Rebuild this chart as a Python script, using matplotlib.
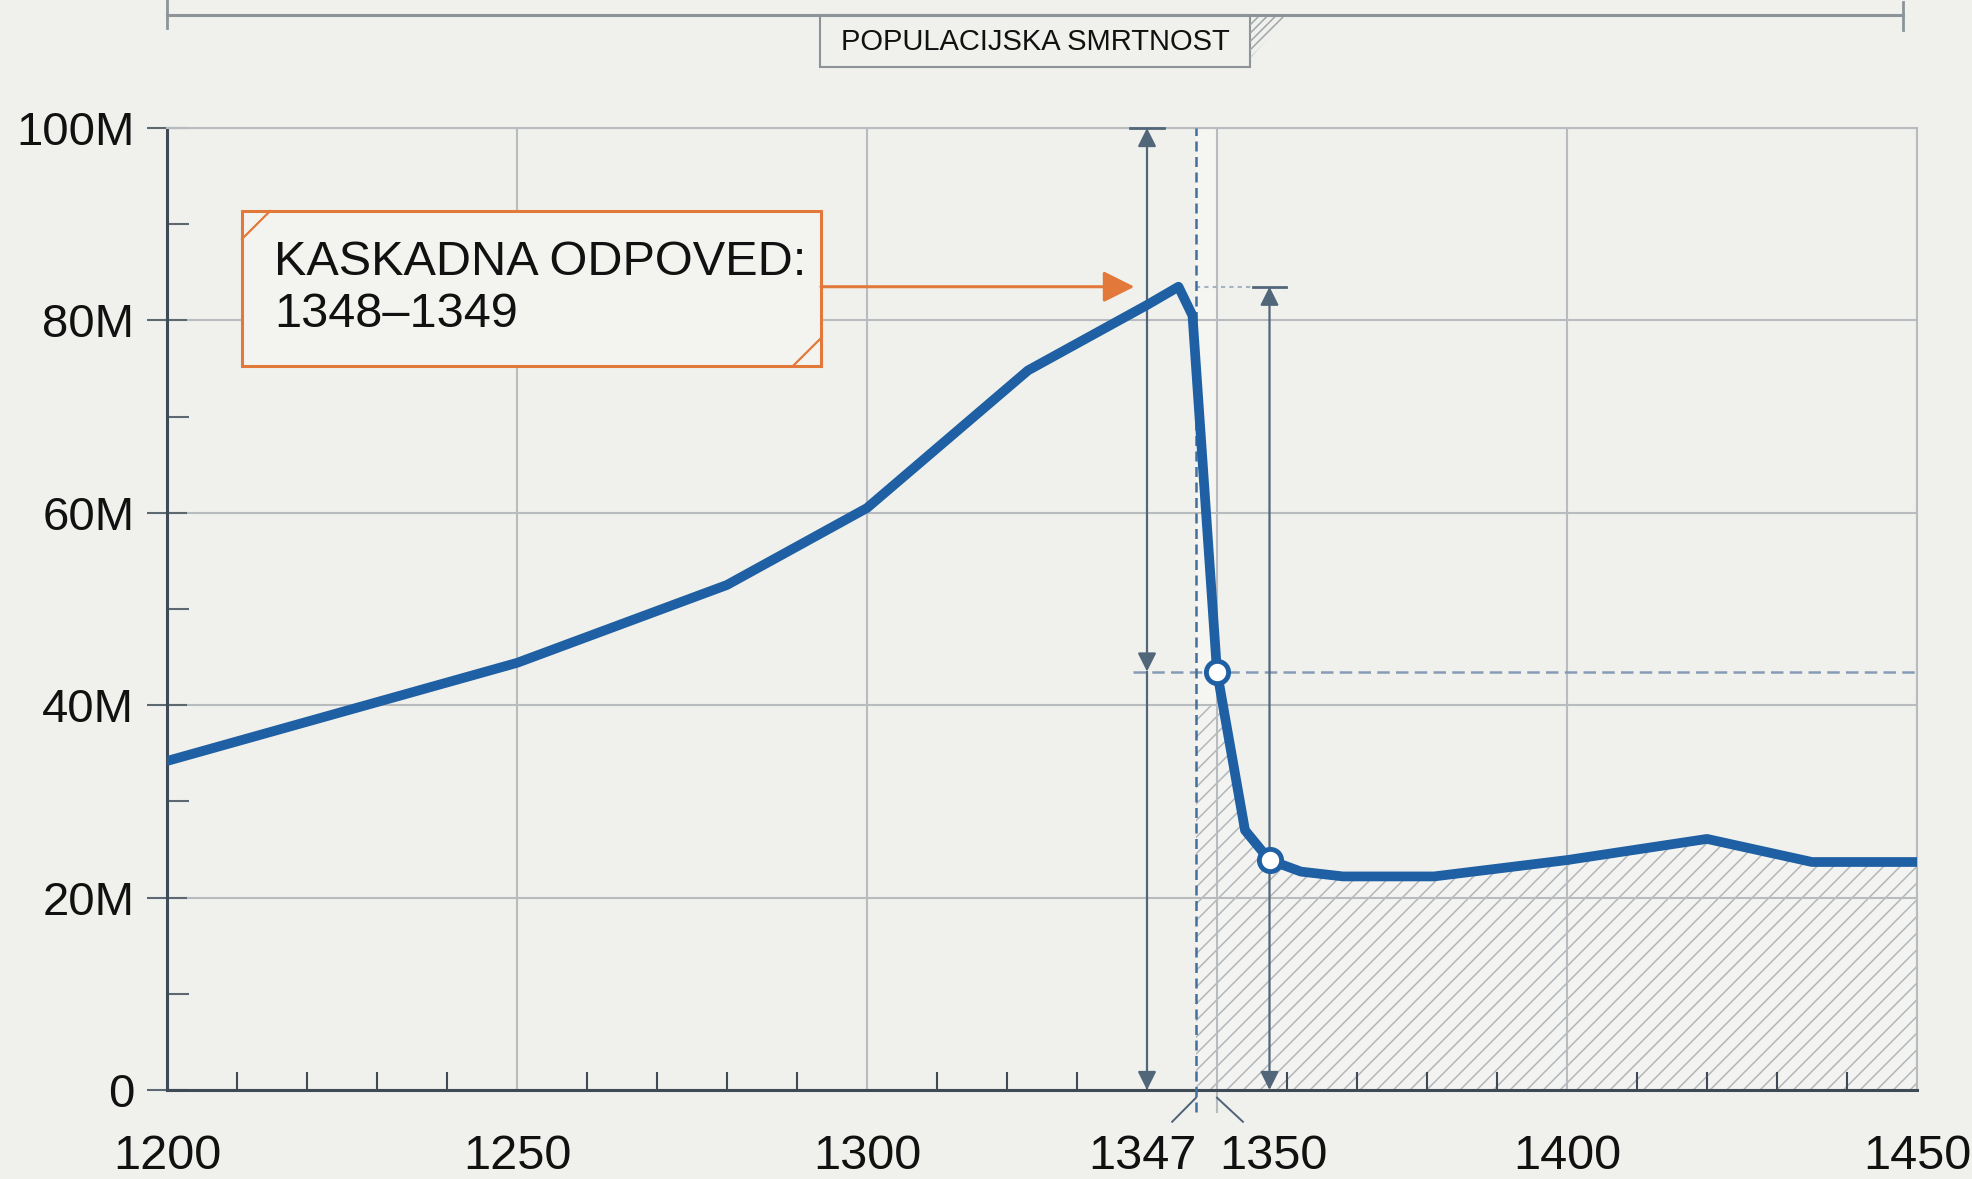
import matplotlib
matplotlib.use('Agg')
import matplotlib.pyplot as plt
import matplotlib.transforms as mtransforms
from matplotlib.patches import Rectangle, Polygon
from matplotlib.lines import Line2D
from matplotlib.ticker import FixedLocator

# ---------------- data ----------------
years = [1200, 1225, 1250, 1280, 1300, 1323, 1340, 1344.5, 1346.5, 1350,
         1354, 1357.5, 1362, 1368, 1381, 1400, 1420, 1435, 1450]
population_m = [34.2, 39.3, 44.4, 52.5, 60.5, 74.8, 81.6, 83.5, 80.5, 43.5,
                27.0, 23.9, 22.7, 22.2, 22.2, 23.9, 26.1, 23.7, 23.7]
marker_years = [1350, 1357.5]
x_major = [1200, 1250, 1300, 1350, 1400, 1450]
x_major_labels = ['1200', '1250', '1300', '', '1400', '1450']
x_minor = [1210, 1220, 1230, 1240, 1260, 1270, 1280, 1290, 1310, 1320, 1330,
           1340, 1360, 1370, 1380, 1390, 1410, 1420, 1430, 1440]
y_ticks = [0, 20, 40, 60, 80, 100]
y_labels = ['0', '20M', '40M', '60M', '80M', '100M']
y_minor = [10, 30, 50, 70, 90]
collapse_start = 1347
collapse_end = 1350
dim_x = 1340
hatch_cap = 40
annot_text = 'KASKADNA ODPOVED:\n1348\u20131349'
title_text = 'POPULACIJSKA SMRTNOST'
special_labels = [('1347', 1339.4, collapse_start, 1343.6),
                  ('1350', 1358.0, collapse_end, 1353.7)]

# ---------------- style ----------------
BG = '#f0f1ec'
BLUE = '#1f5fa3'
ORANGE = '#e2793a'
DIM = '#52667a'
GRID = '#b8bcbe'
SPINE = '#3e4a56'
FONT = ['Liberation Sans', 'DejaVu Sans']
plt.rcParams['font.family'] = FONT
plt.rcParams['hatch.linewidth'] = 1.1

XFS = 35
YFS = 34

W, H = 1972, 1179
fig = plt.figure(figsize=(W / 100, H / 100), dpi=100, facecolor=BG)
ax = fig.add_axes([167 / W, 89 / H, 1750 / W, 962 / H])
ax.set_facecolor(BG)
ax.set_xlim(1200, 1450)
ax.set_ylim(0, 100)

# ticks
ax.set_xticks(x_major)
ax.set_xticklabels(x_major_labels, fontsize=XFS)
ax.xaxis.set_minor_locator(FixedLocator(x_minor))
XPAD = 32
ax.tick_params(axis='x', which='major', length=0, pad=XPAD, colors='#111111')
ax.tick_params(axis='x', which='minor', direction='in', length=13, width=1.5,
               color=SPINE)
ax.set_yticks(y_ticks)
ax.set_yticklabels(y_labels, fontsize=YFS)
ax.yaxis.set_minor_locator(FixedLocator(y_minor))
ax.tick_params(axis='y', which='major', direction='inout', length=29, width=1.5,
               color='#5d6873', pad=9, labelcolor='#111111')
ax.tick_params(axis='y', which='minor', direction='in', length=16, width=1.5,
               color='#5d6873')

ax.grid(True, which='major', color=GRID, lw=1.5)
ax.set_axisbelow(True)
for s in ['left', 'bottom']:
    ax.spines[s].set_color(SPINE)
    ax.spines[s].set_linewidth(2.2)
for s in ['top', 'right']:
    ax.spines[s].set_color(GRID)
    ax.spines[s].set_linewidth(1.5)

xt = ax.get_xaxis_transform()

# light band and hatched region (kept beneath the grid)
ax.axvspan(collapse_start, collapse_end, color='white', alpha=0.35, lw=0, zorder=0.2)
coll = ax.fill_between(years, 0, population_m, facecolor='#f3f4f1',
                       edgecolor='#b3b7ba', hatch='//', linewidth=0, zorder=0.3)
clip = Rectangle((collapse_start, 0), 1450 - collapse_start, hatch_cap,
                 transform=ax.transData)
coll.set_clip_path(clip)

peak = max(population_m)
i1 = years.index(marker_years[0])
i2 = years.index(marker_years[1])
v1 = population_m[i1]
x2 = years[i2]

# reference lines
ax.plot([collapse_start, collapse_start], [-0.023, 1], transform=xt,
        color='#41709f', lw=1.8, ls=(0, (4, 2.2)), clip_on=False, zorder=4)
ax.plot([collapse_end, collapse_end], [-0.023, 0], transform=xt,
        color=GRID, lw=1.5, clip_on=False, zorder=2)
ax.plot([1338, 1450], [v1, v1], color='#869cb6', lw=1.8, ls=(0, (5, 2.5)), zorder=3)

# dimension arrows
ap = dict(color=DIM, lw=1.6, mutation_scale=28, shrinkA=0, shrinkB=0)
ax.annotate('', xy=(dim_x, 100), xytext=(dim_x, v1),
            arrowprops=dict(arrowstyle='<|-|>', **ap), annotation_clip=False)
ax.annotate('', xy=(dim_x, 0), xytext=(dim_x, v1),
            arrowprops=dict(arrowstyle='-|>', **ap), annotation_clip=False)
ax.plot([dim_x - 2.4, dim_x + 2.4], [100, 100], color=DIM, lw=2, clip_on=False, zorder=4)
ax.annotate('', xy=(x2, peak), xytext=(x2, 0),
            arrowprops=dict(arrowstyle='<|-|>', **ap), annotation_clip=False)
ax.plot([x2 - 2.3, x2 + 2.3], [peak, peak], color=DIM, lw=2, zorder=4)
ax.plot([collapse_start, x2 - 2.3], [peak, peak], color='#a4b3c3', lw=1.5,
        ls=(0, (2, 2)), zorder=3)

# main curve
ax.plot(years, population_m, color=BLUE, lw=7, solid_joinstyle='round',
        solid_capstyle='round', zorder=5)
ax.plot([years[i1], years[i2]], [population_m[i1], population_m[i2]], 'o',
        ms=16, mfc='white', mec=BLUE, mew=3.5, zorder=6)

# special x labels with leaders
lab_tr = mtransforms.offset_copy(xt, fig=fig, y=-XPAD, units='points')
for txt, lx, tick_x, lead_x in special_labels:
    ax.text(lx, 0, txt, transform=lab_tr, ha='center', va='top', fontsize=XFS,
            color='#111111', clip_on=False)
    ax.plot([tick_x, lead_x], [-0.008, -0.033], transform=xt, color='#4d6277',
            lw=1.4, clip_on=False)

# annotation box
bx0, by0, bw, bh = 0.0429, 0.7526, 0.3308, 0.1611
ax.add_patch(Rectangle((bx0, by0), bw, bh, transform=ax.transAxes,
                       fc='#f3f4f0', ec=ORANGE, lw=2.2, zorder=7))
cdx, cdy = 0.016, 0.029
ax.plot([bx0, bx0 + cdx], [by0 + bh - cdy, by0 + bh], transform=ax.transAxes,
        color=ORANGE, lw=1.6, zorder=8)
ax.plot([bx0 + bw - cdx, bx0 + bw], [by0, by0 + cdy], transform=ax.transAxes,
        color=ORANGE, lw=1.6, zorder=8)
ax.text(0.0611, by0 + bh / 2, annot_text, transform=ax.transAxes, fontsize=35,
        ha='left', va='center', linespacing=1.2, color='#111111', zorder=9)
ax.annotate('', xy=(1338.2, peak), xytext=(bx0 + bw, peak), xycoords='data',
            textcoords=('axes fraction', 'data'),
            arrowprops=dict(arrowstyle='-|>', color=ORANGE, lw=2.2,
                            mutation_scale=48, shrinkA=0, shrinkB=0), zorder=8)

# top title bar
LG = '#8d9499'
fig.add_artist(Line2D([167 / W, 1903 / W], [1 - 15 / H, 1 - 15 / H], color=LG, lw=2.2))
fig.add_artist(Line2D([167 / W, 167 / W], [1 - 28 / H, 1.0], color=LG, lw=2))
fig.add_artist(Line2D([1903 / W, 1903 / W], [1 - 30 / H, 1 - 2 / H], color=LG, lw=2))
fig.add_artist(Rectangle((820 / W, 1 - 67 / H), 430 / W, 52 / H, transform=fig.transFigure,
                         fc=BG, ec=LG, lw=1.5))
fig.add_artist(Polygon([(1250 / W, 1 - 15 / H), (1290 / W, 1 - 15 / H), (1250 / W, 1 - 58 / H)],
                       closed=True, transform=fig.transFigure, fc='none', ec='#a0a6ab',
                       hatch='////', lw=0))
fig.text(1035 / W, 1 - 42 / H, title_text, ha='center', va='center', fontsize=21,
         color='#111111')

fig.savefig('out.png', dpi=100, facecolor=BG)
